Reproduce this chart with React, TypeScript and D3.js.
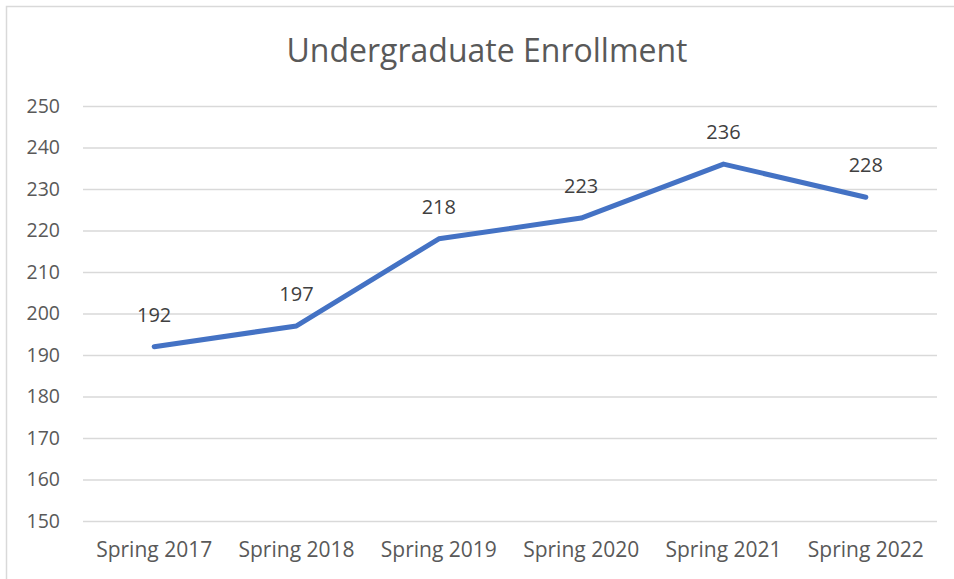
import React, { useEffect, useRef } from "react";
import * as d3 from "d3";

const categories = [
  "Spring 2017",
  "Spring 2018",
  "Spring 2019",
  "Spring 2020",
  "Spring 2021",
  "Spring 2022",
];
const enrollment = [192, 197, 218, 223, 236, 228];
const yTicks = [150, 160, 170, 180, 190, 200, 210, 220, 230, 240, 250];

const width = 954;
const height = 579;
const font = "'Open Sans', 'Noto Sans', sans-serif";

const App: React.FC = () => {
  const svgRef = useRef<SVGSVGElement>(null);

  useEffect(() => {
    if (!svgRef.current) return;
    const svg = d3.select(svgRef.current);
    svg.selectAll("*").remove();

    const x = d3.scaleBand<string>().domain(categories).range([83, 937]);
    const y = d3.scaleLinear().domain([150, 250]).range([521, 106]);

    svg
      .append("rect")
      .attr("x", 6.5)
      .attr("y", 6.5)
      .attr("width", width + 20)
      .attr("height", height + 20)
      .attr("fill", "white")
      .attr("stroke", "#d9d9d9")
      .attr("stroke-width", 1.5);

    svg
      .append("text")
      .attr("x", 487)
      .attr("y", 62)
      .attr("text-anchor", "middle")
      .attr("font-family", font)
      .attr("font-size", 32)
      .attr("fill", "#595959")
      .text("Undergraduate Enrollment");

    // gridlines + y labels
    const yAxis = d3
      .axisLeft(y)
      .tickValues(yTicks)
      .tickSize(-(937 - 83))
      .tickPadding(23);
    const gy = svg.append("g").attr("transform", "translate(83,0)").call(yAxis);
    gy.select(".domain").remove();
    gy.selectAll(".tick line").attr("stroke", "#d9d9d9").attr("stroke-width", 1.3);
    gy.selectAll(".tick text")
      .attr("font-family", font)
      .attr("font-size", 19.5)
      .attr("fill", "#595959");

    const xAxis = d3.axisBottom(x).tickSize(0).tickPadding(21);
    const gx = svg.append("g").attr("transform", "translate(0,521)").call(xAxis);
    gx.select(".domain").remove();
    gx.selectAll(".tick text")
      .attr("font-family", font)
      .attr("font-size", 21)
      .attr("fill", "#595959");

    const cx = (c: string) => (x(c) ?? 0) + x.bandwidth() / 2;

    const line = d3
      .line<number>()
      .x((_, i) => cx(categories[i]))
      .y((d) => y(d));

    svg
      .append("path")
      .datum(enrollment)
      .attr("fill", "none")
      .attr("stroke", "#4472c4")
      .attr("stroke-width", 5)
      .attr("stroke-linecap", "round")
      .attr("stroke-linejoin", "round")
      .attr("d", line);

    svg
      .append("g")
      .selectAll("text")
      .data(enrollment)
      .join("text")
      .attr("x", (_, i) => cx(categories[i]))
      .attr("y", (d) => y(d) - 25)
      .attr("text-anchor", "middle")
      .attr("font-family", font)
      .attr("font-size", 20)
      .attr("fill", "#404040")
      .text((d) => d);
  }, []);

  return (
    <svg
      ref={svgRef}
      width={width}
      height={height}
      style={{ position: "absolute", left: 0, top: 0 }}
    />
  );
};

export default App;
